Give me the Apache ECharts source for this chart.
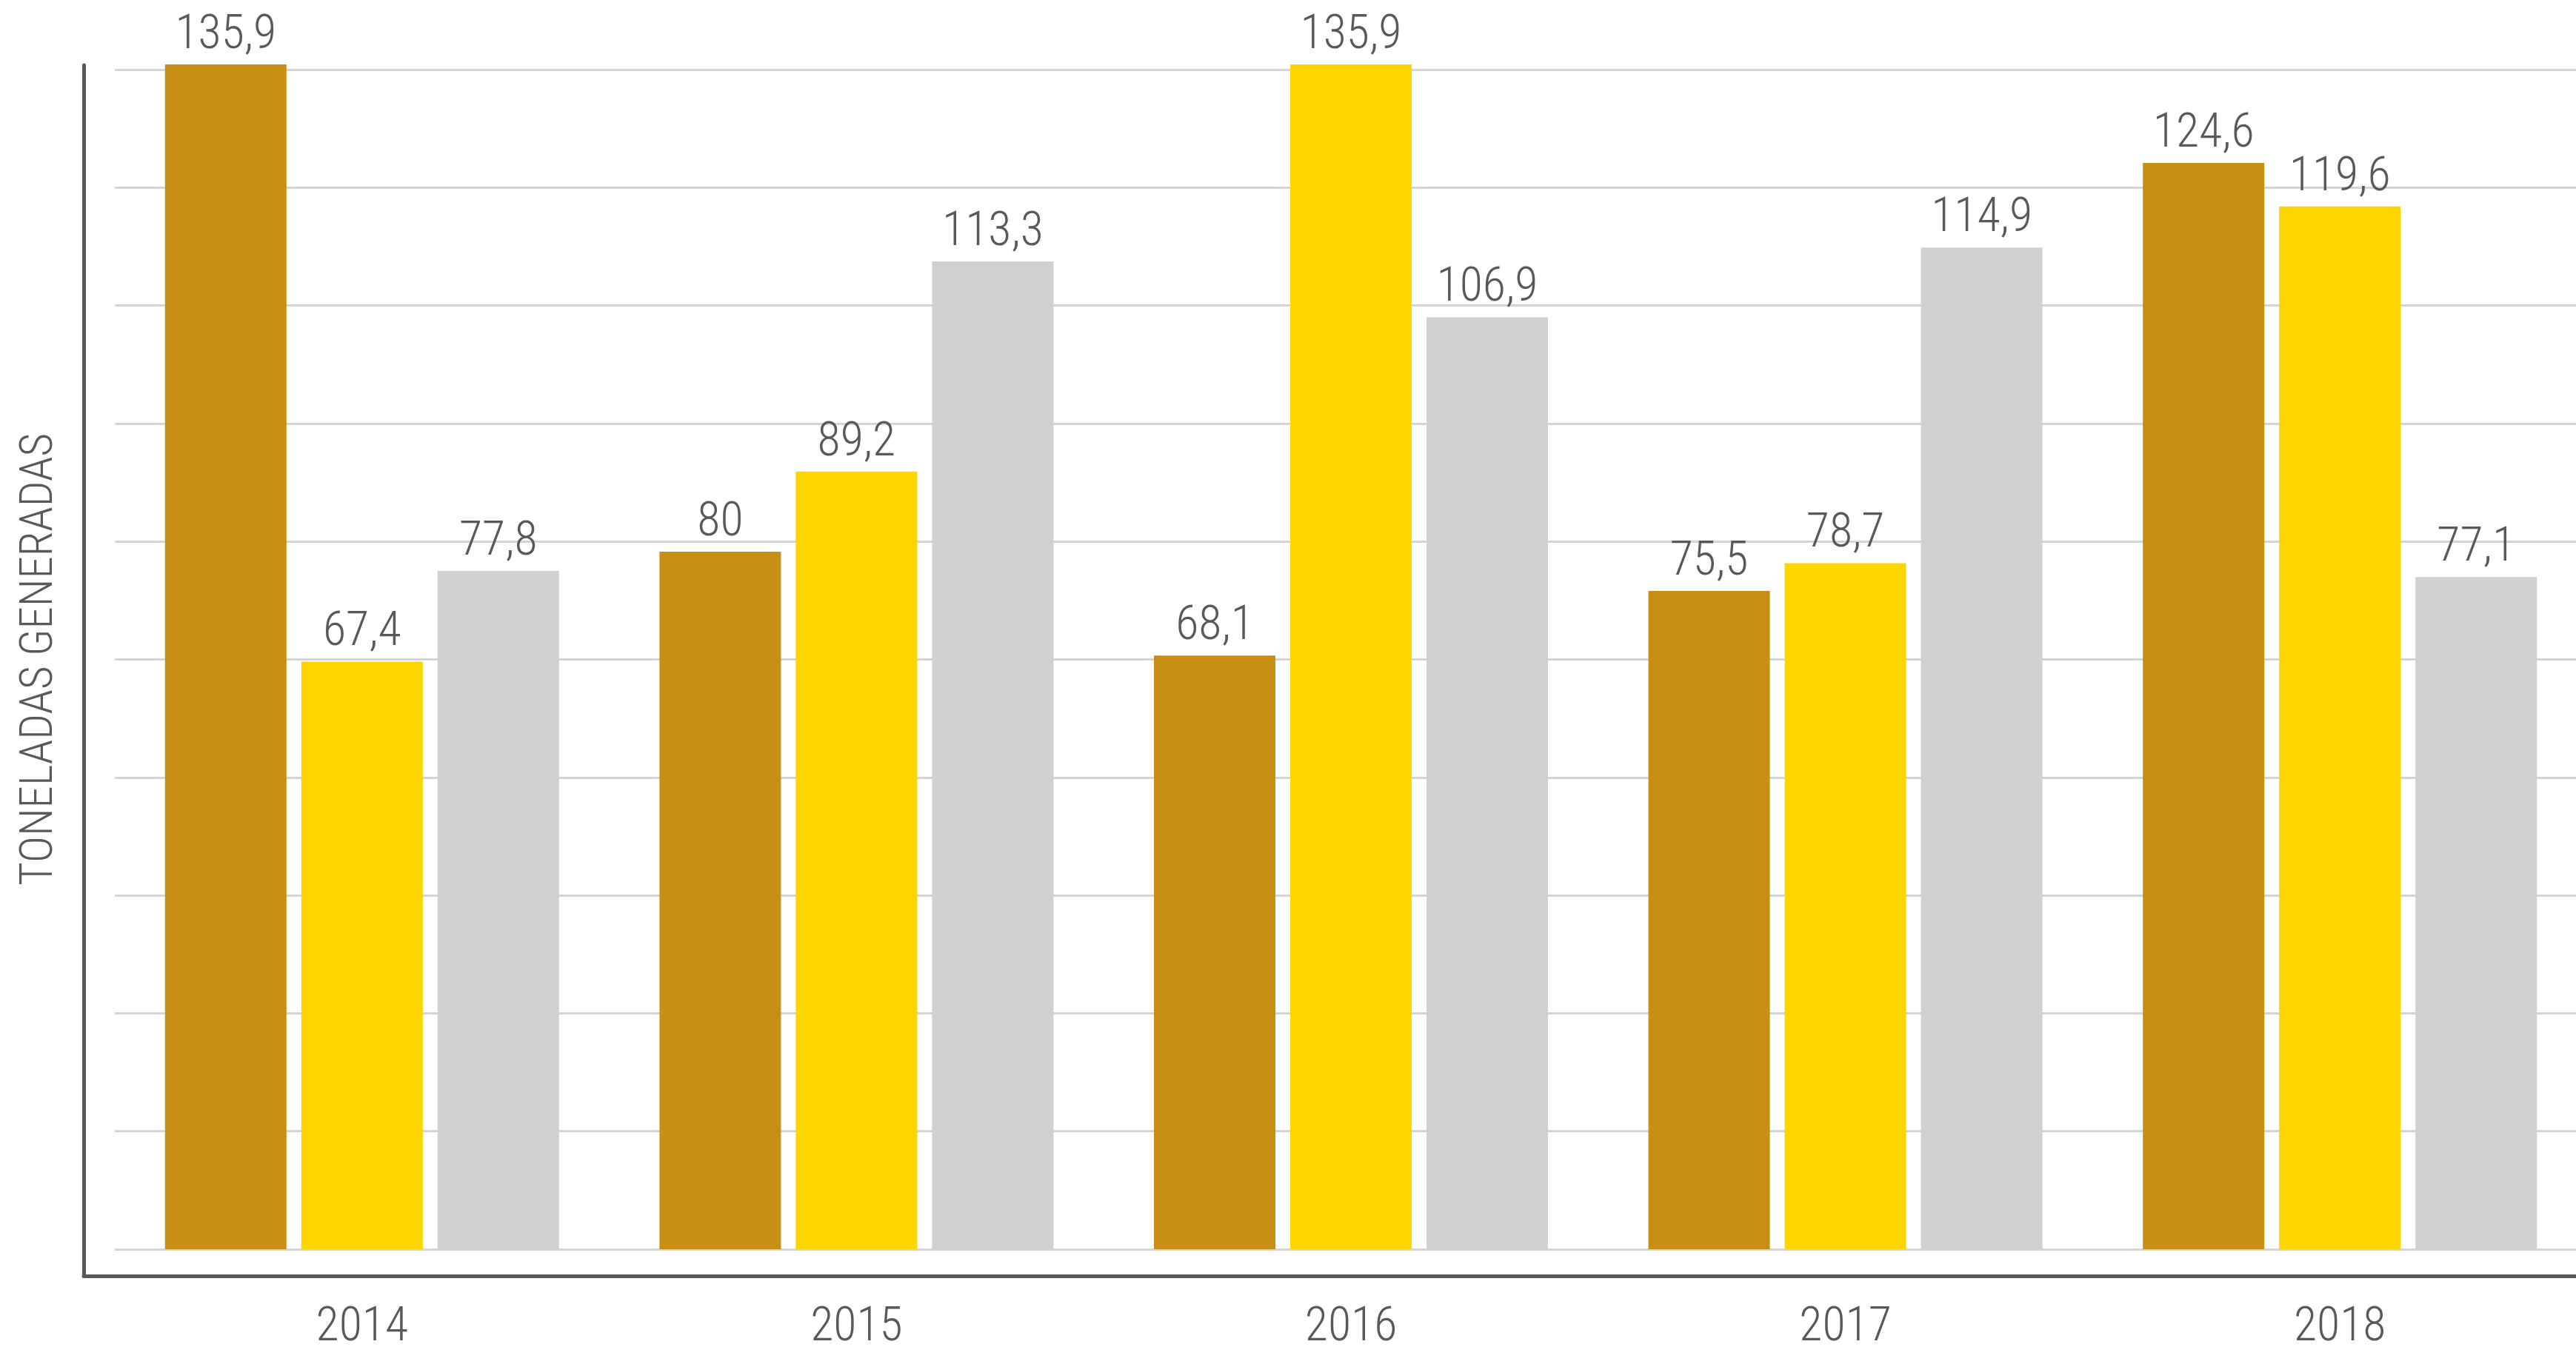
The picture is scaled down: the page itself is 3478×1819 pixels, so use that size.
<!DOCTYPE html>
<html>
<head>
<meta charset="utf-8">
<script src="https://cdn.jsdelivr.net/npm/echarts@6/dist/echarts.min.js"></script>
<style>
html,body{margin:0;padding:0;background:#fff;}
#chart{width:3478px;height:1819px;}
</style>
</head>
<body>
<div id="chart"></div>
<script>
const categories = ['2014', '2015', '2016', '2017', '2018'];
const seriesA = [135.9, 80, 68.1, 75.5, 124.6];
const seriesB = [67.4, 89.2, 135.9, 78.7, 119.6];
const seriesC = [77.8, 113.3, 106.9, 114.9, 77.1];
const yAxisTitle = 'TONELADAS GENERADAS';

const FONT = "'Roboto Condensed', 'Liberation Sans Narrow', 'Arial Narrow', 'DejaVu Sans Condensed', sans-serif";
const TXT = '#595959';

function fmt(p) { return String(p.value).replace('.', ','); }

function bar(name, data, color) {
  return {
    name: name,
    type: 'bar',
    xAxisIndex: 0,
    yAxisIndex: 0,
    data: data,
    barWidth: 164,
    barGap: '12.2%',
    clip: false,
    itemStyle: { color: color },
    label: {
      show: true,
      position: 'top',
      distance: 6,
      formatter: fmt,
      color: TXT,
      fontFamily: FONT,
      fontWeight: 300,
      fontSize: 64,
      lineHeight: 64
    }
  };
}

const chart = echarts.init(document.getElementById('chart'));
chart.setOption({
  animation: false,
  backgroundColor: '#ffffff',
  grid: [
    { left: 155, width: 3338, top: 94, bottom: 132, outerBoundsMode: 'none', containLabel: false },
    { left: 113, right: 0, top: 88, bottom: 96, outerBoundsMode: 'none', containLabel: false }
  ],
  xAxis: [
    {
      gridIndex: 0,
      type: 'category',
      data: categories,
      axisLine: { show: false },
      axisTick: { show: false },
      axisLabel: { color: TXT, fontFamily: FONT, fontWeight: 300, fontSize: 64, lineHeight: 64, margin: 75 },
      splitLine: { show: false }
    },
    {
      gridIndex: 1,
      type: 'value', min: 0, max: 1,
      axisLine: { show: true, lineStyle: { color: TXT, width: 5 } },
      axisTick: { show: false },
      axisLabel: { show: false },
      splitLine: { show: false }
    }
  ],
  yAxis: [
    {
      gridIndex: 0,
      type: 'value',
      min: 0, max: 135.3, interval: 13.53,
      axisLine: { show: false },
      axisTick: { show: false },
      axisLabel: { show: false },
      splitLine: { show: true, lineStyle: { color: '#D4D4D4', width: 3 } },
      name: yAxisTitle,
      nameLocation: 'middle',
      nameRotate: 90,
      nameGap: 70,
      nameTextStyle: { color: TXT, fontFamily: FONT, fontWeight: 300, fontSize: 61, lineHeight: 61 }
    },
    {
      gridIndex: 1,
      type: 'value', min: 0, max: 1,
      axisLine: { show: true, lineStyle: { color: TXT, width: 5 } },
      axisTick: { show: false },
      axisLabel: { show: false },
      splitLine: { show: false }
    }
  ],
  series: [
    bar('A', seriesA, '#C88F15'),
    bar('B', seriesB, '#FDD500'),
    bar('C', seriesC, '#D0D0CE')
  ]
});
</script>
</body>
</html>
